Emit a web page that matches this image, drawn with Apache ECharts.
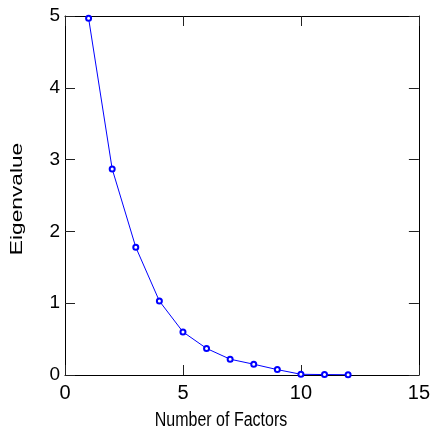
<!DOCTYPE html>
<html>
<head>
<meta charset="utf-8">
<script src="https://cdn.jsdelivr.net/npm/echarts@6/dist/echarts.min.js"></script>
<style>html,body{margin:0;padding:0;background:#fff}#c{width:433px;height:434px}</style>
</head>
<body>
<div id="c"></div>
<script>
var factors = [1, 2, 3, 4, 5, 6, 7, 8, 9, 10, 11, 12];
var eigenvalues = [4.97, 2.87, 1.78, 1.03, 0.60, 0.37, 0.22, 0.15, 0.075, 0.01, 0.006, 0.004];
var xTitle = 'Number of Factors';
var yTitle = 'Eigenvalue';

var chart = echarts.init(document.getElementById('c'), null, {renderer: 'canvas'});
var pts = factors.map(function (f, i) { return [f, eigenvalues[i]]; });
var font = 'Arial, "Liberation Sans", sans-serif';
var baseAxis = {
  axisLine: {show: true, onZero: false, lineStyle: {color: '#000', width: 1}},
  axisTick: {show: true, inside: true, length: 10, lineStyle: {color: '#222', width: 1}},
  splitLine: {show: false}
};
function ax(extra) { return Object.assign({}, JSON.parse(JSON.stringify(baseAxis)), extra); }

chart.setOption({
  animation: false,
  backgroundColor: '#fff',
  grid: {left: 65, right: 9, top: 16, bottom: 59, containLabel: false},
  xAxis: [
    ax({type: 'value', position: 'bottom', min: 0, max: 15, interval: 5,
        axisLabel: {show: true, margin: 8, color: '#000', fontSize: 20, fontFamily: font}}),
    ax({type: 'value', position: 'top', min: 0, max: 15, interval: 5, axisLabel: {show: false}})
  ],
  yAxis: [
    ax({type: 'value', position: 'left', min: 0, max: 5, interval: 1,
        axisLabel: {show: true, margin: 5, color: '#000', fontSize: 19, fontFamily: font}}),
    ax({type: 'value', position: 'right', min: 0, max: 5, interval: 1, axisLabel: {show: false}})
  ],
  series: [{
    type: 'line',
    xAxisIndex: 0, yAxisIndex: 0,
    data: pts,
    symbol: 'emptyCircle',
    symbolSize: 5,
    showSymbol: true,
    lineStyle: {color: '#0000ff', width: 1},
    itemStyle: {color: '#0000ff', borderColor: '#0000ff', borderWidth: 1},
    emphasis: {disabled: true}
  }],
  graphic: [
    {type: 'text', x: 221, y: 420, scaleX: 0.8, scaleY: 1,
     style: {text: xTitle, font: '20px ' + font, fill: '#000', align: 'center', verticalAlign: 'middle'}},
    {type: 'text', x: 18, y: 199, rotation: Math.PI / 2, scaleX: 1.42, scaleY: 1,
     style: {text: yTitle, font: '16px ' + font, fill: '#000', align: 'center', verticalAlign: 'middle'}}
  ]
});
</script>
</body>
</html>
